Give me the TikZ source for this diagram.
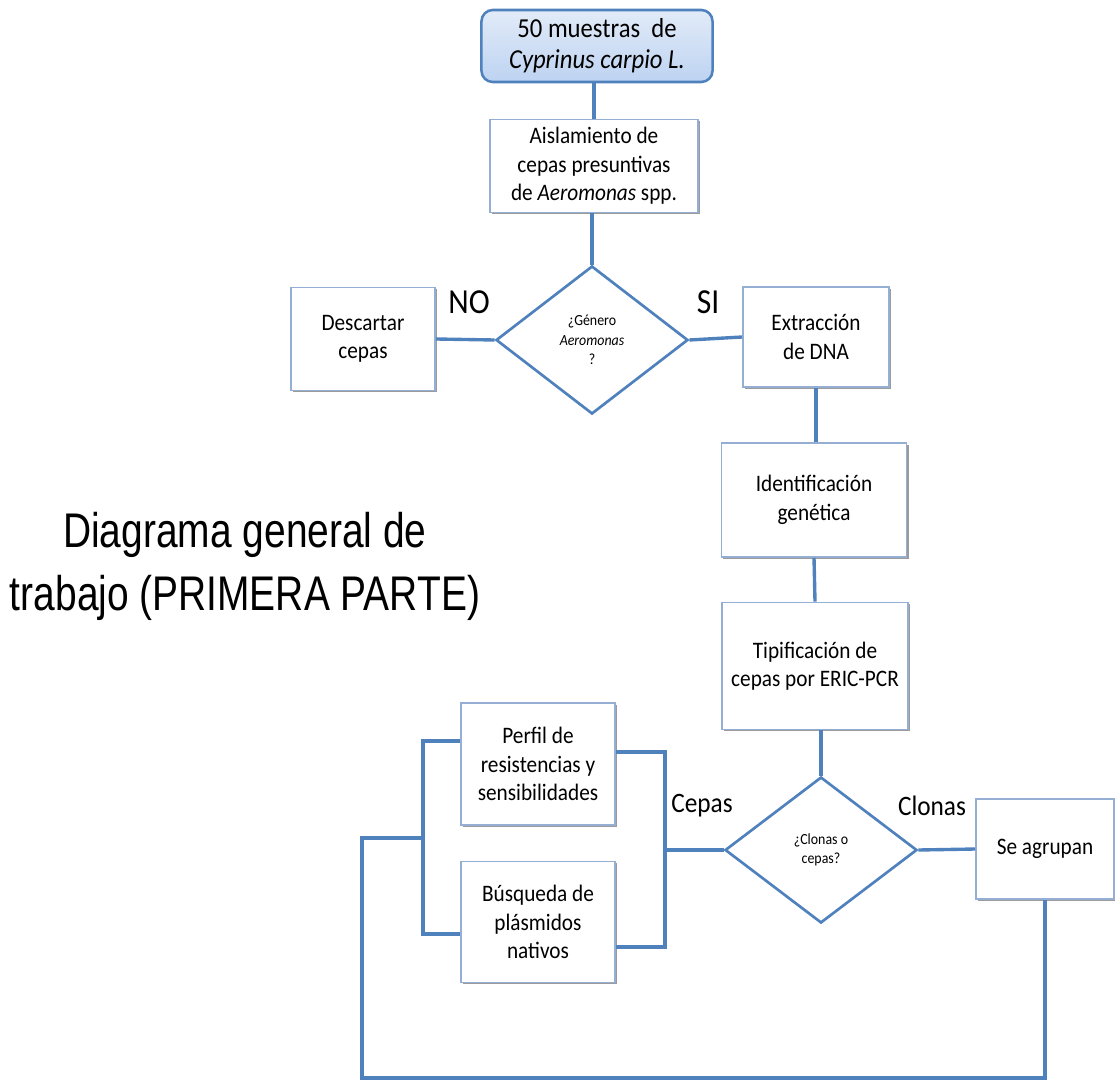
\documentclass[tikz,border=0pt]{standalone}
\usepackage{fontspec}
\setmainfont{Carlito}[FakeStretch=0.9]
\newfontfamily\titlefont{Liberation Sans}[FakeStretch=0.8]
\usepackage{xcolor}
\usepackage{tikz}
\usetikzlibrary{shapes.geometric, shadows}
\definecolor{linkblue}{HTML}{4F81BD}
\definecolor{boxedge}{HTML}{95AED3}
\definecolor{topfill}{HTML}{E2EBF8}
\definecolor{botfill}{HTML}{BDD3F2}
\tikzset{
  stepbox/.style={
    draw=boxedge, line width=1.2pt, fill=white,
    align=center, inner sep=2pt,
    font=\fontsize{16.8}{20.2}\selectfont,
    drop shadow={shadow xshift=1.4pt, shadow yshift=-1.4pt, fill=black!65, opacity=0.6}
  },
  startbox/.style={
    draw=linkblue, line width=1.8pt, rounded corners=8pt,
    top color=topfill, bottom color=botfill,
    align=center, inner sep=2pt,
    font=\fontsize{19.5}{22}\selectfont
  },
  askbox/.style={
    diamond, draw=linkblue, line width=1.9pt, fill=white,
    align=center, inner sep=0pt,
    font=\fontsize{11}{14}\selectfont
  },
  tag/.style={font=\fontsize{20}{24}\selectfont, inner sep=0pt},
  bigtag/.style={font=\fontsize{25}{30}\selectfont, inner sep=0pt},
  conn/.style={draw=linkblue, line width=2.4pt}
}
\begin{document}
\begin{tikzpicture}[x=0.025cm, y=-0.025cm]
\useasboundingbox (0,0) rectangle (1115,1082);

\node[startbox, minimum width=5.775cm, minimum height=1.8cm] (top) at (597,46) {50 muestras~~de\\\textit{Cyprinus carpio L.}};
\node[stepbox, minimum width=5.2cm, minimum height=2.325cm] (ais) at (594,166) {Aislamiento de\\cepas presuntivas\\de \textit{Aeromonas} spp.};
\node[askbox, minimum width=4.8cm, minimum height=3.7cm] (gen) at (592,340) {¿Género\\\textit{Aeromonas}\\?};
\node[stepbox, minimum width=3.6cm, minimum height=2.575cm] (desc) at (363,339) {Descartar\\cepas};
\node[stepbox, minimum width=3.65cm, minimum height=2.5cm] (ext) at (816,337) {Extracción\\de DNA};
\node[stepbox, minimum width=4.625cm, minimum height=2.85cm] (ident) at (814,500) {Identificación\\genética};
\node[stepbox, minimum width=4.65cm, minimum height=3.175cm] (tip) at (815,666) {Tipificación de\\cepas por ERIC-PCR};
\node[askbox, minimum width=4.8cm, minimum height=3.65cm] (clo) at (821,850) {¿Clonas o\\cepas?};
\node[stepbox, minimum width=3.45cm, minimum height=2.5cm] (agr) at (1045,849) {Se agrupan};
\node[stepbox, minimum width=3.85cm, minimum height=3.05cm] (perfil) at (538,764) {Perfil de\\resistencias y\\sensibilidades};
\node[stepbox, minimum width=3.85cm, minimum height=3.025cm] (busq) at (538,922) {Búsqueda de\\plásmidos\\nativos};

\node[bigtag] (no) at (469,302) {NO};
\node[bigtag] (si) at (708,302) {SI};
\node[tag] (cepas) at (702,806) {Cepas};
\node[tag] (clonas) at (932,806) {Clonas};

\node[font=\titlefont\fontsize{34.6}{44.7}\selectfont, align=center, inner sep=0pt] (title) at (245,566)
  {Diagrama general de\\trabajo (PRIMERA PARTE)};

\coordinate (rb) at (665,850);
\coordinate (lb) at (423,838);
\coordinate (lo) at (362,838);

\path[conn] (ais.north) edge (ais.north |- top.south)
            (gen.north) edge (gen.north |- ais.south)
            (desc.east) edge (gen.west)
            (gen.east)  edge (ext.west)
            (ext.south) edge (ext.south |- ident.north)
            (ident.south) edge (tip.north)
            (clo.north) edge (clo.north |- tip.south)
            (clo.east)  edge (agr.west)
            (clo.west)  edge (rb);

\draw[conn] (perfil.east |- 0,752) -| (rb) |- (busq.east |- 0,947);
\draw[conn] (perfil.west |- 0,741) -| (lb) |- (busq.west |- 0,934);
\draw[conn] (lb) -- (lo) |- (agr.south |- 0,1078) -- (agr.south);
\end{tikzpicture}
\end{document}
